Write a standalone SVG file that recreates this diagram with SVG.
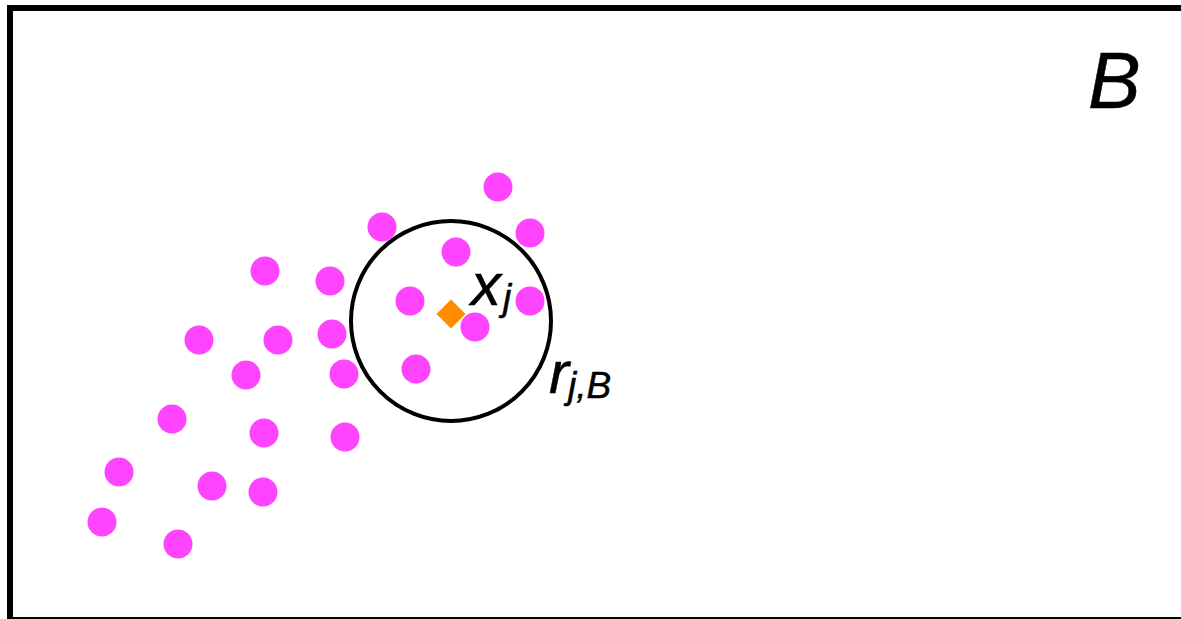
<svg xmlns="http://www.w3.org/2000/svg" width="1181" height="619" viewBox="0 0 1181 619">
<style>
.dot{fill:#ff44ff}
.lbl{font-family:"Liberation Sans",Arial,sans-serif;font-style:italic;fill:#000;stroke:#000;stroke-width:0.5}
</style>
<rect x="0" y="0" width="1181" height="619" fill="#fff"/>
<g id="frame"><rect x="10" y="8" width="1200" height="612" fill="none" stroke="#000" stroke-width="6"/></g>
<g id="label-B"><text class="lbl" x="1088" y="108" font-size="79">B</text></g>
<g id="points">
<circle class="dot" cx="498" cy="187" r="14.5"/>
<circle class="dot" cx="382" cy="227" r="14.5"/>
<circle class="dot" cx="530" cy="233" r="14.5"/>
<circle class="dot" cx="456" cy="252" r="14.5"/>
<circle class="dot" cx="265" cy="271" r="14.5"/>
<circle class="dot" cx="330" cy="281" r="14.5"/>
<circle class="dot" cx="410" cy="301" r="14.5"/>
<circle class="dot" cx="530" cy="301" r="14.5"/>
<circle class="dot" cx="199" cy="340" r="14.5"/>
<circle class="dot" cx="278" cy="340" r="14.5"/>
<circle class="dot" cx="332" cy="334" r="14.5"/>
<circle class="dot" cx="246" cy="375" r="14.5"/>
<circle class="dot" cx="344" cy="374" r="14.5"/>
<circle class="dot" cx="416" cy="369" r="14.5"/>
<circle class="dot" cx="172" cy="419" r="14.5"/>
<circle class="dot" cx="264" cy="433" r="14.5"/>
<circle class="dot" cx="345" cy="437" r="14.5"/>
<circle class="dot" cx="119" cy="472" r="14.5"/>
<circle class="dot" cx="212" cy="486" r="14.5"/>
<circle class="dot" cx="263" cy="492" r="14.5"/>
<circle class="dot" cx="102" cy="522" r="14.5"/>
<circle class="dot" cx="178" cy="544" r="14.5"/>
</g>
<g id="ball"><circle cx="451" cy="321" r="100" fill="none" stroke="#000" stroke-width="4"/></g>
<g id="center"><polygon points="451,299.5 465.5,314 451,328.5 436.5,314" fill="#ff8c00"/></g>
<g id="point-front"><circle class="dot" cx="475" cy="327" r="14.5"/></g>
<g id="label-x">
<text class="lbl" x="471" y="305" font-size="60">x</text>
<text class="lbl" x="503" y="310" font-size="37">j</text>
</g>
<g id="label-r">
<text class="lbl" x="549" y="393" font-size="60">r</text>
<text class="lbl" x="568" y="398" font-size="37">j,B</text>
</g>
</svg>
